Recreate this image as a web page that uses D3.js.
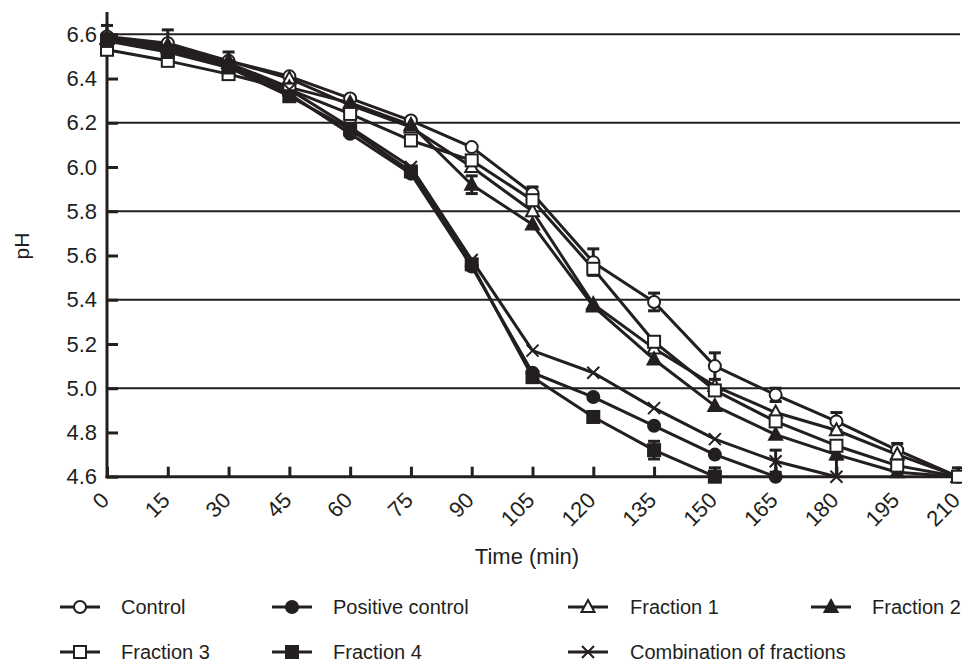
<!DOCTYPE html>
<html>
<head>
<meta charset="utf-8">
<script src="https://cdn.jsdelivr.net/npm/d3@7"></script>
<style>
  html, body { margin: 0; padding: 0; background: #fff; }
  svg { display: block; font-family: "Liberation Sans", Arial, Helvetica, sans-serif; }
</style>
</head>
<body>
<svg id="chart" width="962" height="664"></svg>
<script>
// ---- Data ----
const times = [0, 15, 30, 45, 60, 75, 90, 105, 120, 135, 150, 165, 180, 195, 210];
const yTicks = [4.6, 4.8, 5.0, 5.2, 5.4, 5.6, 5.8, 6.0, 6.2, 6.4, 6.6];
const gridValues = [6.6, 6.2, 5.8, 5.4, 5.0];

const control          = [6.59, 6.56, 6.48, 6.41, 6.31, 6.21, 6.09, 5.88, 5.57, 5.39, 5.10, 4.97, 4.85, 4.72, 4.60];
const positiveControl  = [6.58, 6.53, 6.46, 6.33, 6.15, 5.97, 5.55, 5.07, 4.96, 4.83, 4.70, 4.60, null, null, null];
const fraction1        = [6.58, 6.55, 6.48, 6.40, 6.28, 6.18, 6.00, 5.80, 5.38, 5.18, 5.01, 4.89, 4.81, 4.70, 4.60];
const fraction2        = [6.58, 6.54, 6.47, 6.36, 6.29, 6.19, 5.92, 5.74, 5.37, 5.13, 4.92, 4.79, 4.70, 4.62, 4.60];
const fraction3        = [6.53, 6.48, 6.42, 6.35, 6.24, 6.12, 6.03, 5.85, 5.54, 5.21, 4.99, 4.85, 4.74, 4.65, 4.60];
const fraction4        = [6.57, 6.52, 6.45, 6.32, 6.17, 5.98, 5.56, 5.05, 4.87, 4.72, 4.60, null, null, null, null];
const combination      = [6.58, 6.53, 6.46, 6.35, 6.18, 6.00, 5.58, 5.17, 5.07, 4.91, 4.77, 4.67, 4.60, null, null];

// error bar half-widths (0 = not visible)
const controlErr       = [0.05, 0.06, 0.04, 0, 0, 0, 0, 0.03, 0.06, 0.04, 0.06, 0.03, 0.04, 0.03, 0.04];
const positiveErr      = [0, 0, 0, 0, 0, 0, 0, 0, 0, 0, 0, 0, 0, 0, 0];
const fraction1Err     = [0, 0, 0, 0, 0, 0, 0, 0, 0, 0, 0, 0, 0, 0, 0];
const fraction2Err     = [0, 0, 0, 0, 0, 0, 0.04, 0, 0, 0, 0, 0, 0, 0, 0];
const fraction3Err     = [0, 0, 0, 0, 0, 0, 0, 0, 0, 0, 0, 0, 0, 0, 0];
const fraction4Err     = [0, 0, 0, 0, 0, 0, 0, 0, 0, 0.04, 0.04, 0, 0, 0, 0];
const combinationErr   = [0, 0, 0, 0, 0, 0, 0, 0, 0, 0, 0, 0.05, 0.08, 0, 0];

const seriesNames = ["Control", "Positive control", "Fraction 1", "Fraction 2", "Fraction 3", "Fraction 4", "Combination of fractions"];
const seriesValues = [control, positiveControl, fraction1, fraction2, fraction3, fraction4, combination];
const seriesErrors = [controlErr, positiveErr, fraction1Err, fraction2Err, fraction3Err, fraction4Err, combinationErr];
const seriesMarkers = ["circle-open", "circle-filled", "triangle-open", "triangle-filled", "square-open", "square-filled", "cross"];

// ---- Layout ----
const ink = "#231f20";
const svg = d3.select("#chart");
const x = d3.scaleLinear().domain([0, 210]).range([107, 958]);
const y = d3.scaleLinear().domain([4.6, 6.6]).range([476.7, 34.3]);

// gridlines
svg.append("g").selectAll("line").data(gridValues).join("line")
  .attr("x1", x(0)).attr("x2", 960)
  .attr("y1", d => y(d)).attr("y2", d => y(d))
  .attr("stroke", ink).attr("stroke-width", 2);

// y axis
const yAxis = svg.append("g").attr("transform", `translate(${x(0)},0)`)
  .call(d3.axisLeft(y).tickValues(yTicks).tickSize(-11).tickPadding(10).tickFormat(d3.format(".1f")));
yAxis.select(".domain").remove();
yAxis.selectAll(".tick line").attr("stroke", ink).attr("stroke-width", 3);
yAxis.selectAll(".tick text").attr("fill", ink).attr("font-size", 22).attr("font-family", "Liberation Sans, Arial, sans-serif");
svg.append("line").attr("x1", x(0)).attr("x2", x(0)).attr("y1", 12).attr("y2", y(4.6) + 1.5)
  .attr("stroke", ink).attr("stroke-width", 3);

// x axis
const xAxis = svg.append("g").attr("transform", `translate(0,${y(4.6)})`)
  .call(d3.axisBottom(x).tickValues(times).tickSize(-10).tickFormat(d3.format("d")));
xAxis.select(".domain").remove();
xAxis.selectAll(".tick line").attr("stroke", ink).attr("stroke-width", 3);
xAxis.selectAll(".tick text")
  .attr("fill", ink).attr("font-size", 22).attr("font-family", "Liberation Sans, Arial, sans-serif")
  .attr("text-anchor", "end").attr("x", 0).attr("y", 0).attr("dy", 0)
  .attr("transform", "translate(3,25) rotate(-45)");
svg.append("line").attr("x1", x(0) - 1.5).attr("x2", 960).attr("y1", y(4.6)).attr("y2", y(4.6))
  .attr("stroke", ink).attr("stroke-width", 3);

// axis titles
svg.append("text").attr("x", 527).attr("y", 564).attr("text-anchor", "middle")
  .attr("font-size", 22).attr("fill", ink).text("Time (min)");
svg.append("text").attr("transform", "translate(29,246) rotate(-90)").attr("text-anchor", "middle")
  .attr("font-size", 21).attr("fill", ink).text("pH");

// marker drawing
function drawMarker(g, type, cx, cy) {
  const m = g.append("g").attr("transform", `translate(${cx},${cy})`);
  if (type.startsWith("circle")) {
    m.append("circle").attr("r", 6)
      .attr("fill", type.endsWith("open") ? "#fff" : ink).attr("stroke", ink).attr("stroke-width", 2);
  } else if (type.startsWith("square")) {
    m.append("rect").attr("x", -6).attr("y", -6).attr("width", 12).attr("height", 12)
      .attr("fill", type.endsWith("open") ? "#fff" : ink).attr("stroke", ink).attr("stroke-width", 2);
  } else if (type.startsWith("triangle")) {
    m.append("path").attr("d", "M0,-7 L6.5,5 L-6.5,5 Z")
      .attr("fill", type.endsWith("open") ? "#fff" : ink).attr("stroke", ink).attr("stroke-width", 2);
  } else if (type === "cross") {
    m.append("path").attr("d", "M-6,-6 L6,6 M-6,6 L6,-6")
      .attr("fill", "none").attr("stroke", ink).attr("stroke-width", 2);
  }
}

const line = d3.line().defined(d => d.v != null).x(d => x(d.t)).y(d => y(d.v));
const plot = svg.append("g");

// lines
seriesValues.forEach((vals, i) => {
  const pts = times.map((t, j) => ({ t, v: vals[j] }));
  plot.append("path").datum(pts).attr("d", line)
    .attr("fill", "none").attr("stroke", ink).attr("stroke-width", 3).attr("stroke-linejoin", "round");
});

// error bars
seriesValues.forEach((vals, i) => {
  const errs = seriesErrors[i];
  times.forEach((t, j) => {
    const v = vals[j], e = errs[j];
    if (v == null || !e) return;
    const top = y(v + e), bot = y(Math.max(v - e, 4.6));
    const eg = plot.append("g").attr("stroke", ink).attr("stroke-width", 3);
    eg.append("line").attr("x1", x(t)).attr("x2", x(t)).attr("y1", top).attr("y2", bot);
    eg.append("line").attr("x1", x(t) - 6).attr("x2", x(t) + 6).attr("y1", top).attr("y2", top);
    if (v - e >= 4.6) eg.append("line").attr("x1", x(t) - 6).attr("x2", x(t) + 6).attr("y1", bot).attr("y2", bot);
  });
});

// markers
seriesValues.forEach((vals, i) => {
  times.forEach((t, j) => {
    if (vals[j] == null) return;
    drawMarker(plot, seriesMarkers[i], x(t), y(vals[j]));
  });
});

// legend
const legendPos = [
  { sx: 60, tx: 121, y: 607 }, { sx: 272, tx: 333, y: 607 }, { sx: 568, tx: 630, y: 607 }, { sx: 811, tx: 872, y: 607 },
  { sx: 60, tx: 121, y: 652 }, { sx: 272, tx: 333, y: 652 }, { sx: 568, tx: 630, y: 652 }
];
const legend = svg.append("g");
seriesNames.forEach((name, i) => {
  const p = legendPos[i];
  legend.append("line").attr("x1", p.sx).attr("x2", p.sx + 40).attr("y1", p.y).attr("y2", p.y)
    .attr("stroke", ink).attr("stroke-width", 3);
  drawMarker(legend, seriesMarkers[i], p.sx + 20, p.y);
  legend.append("text").attr("x", p.tx).attr("y", p.y).attr("dy", "0.35em")
    .attr("font-size", 20).attr("fill", ink).text(name);
});
</script>
</body>
</html>
